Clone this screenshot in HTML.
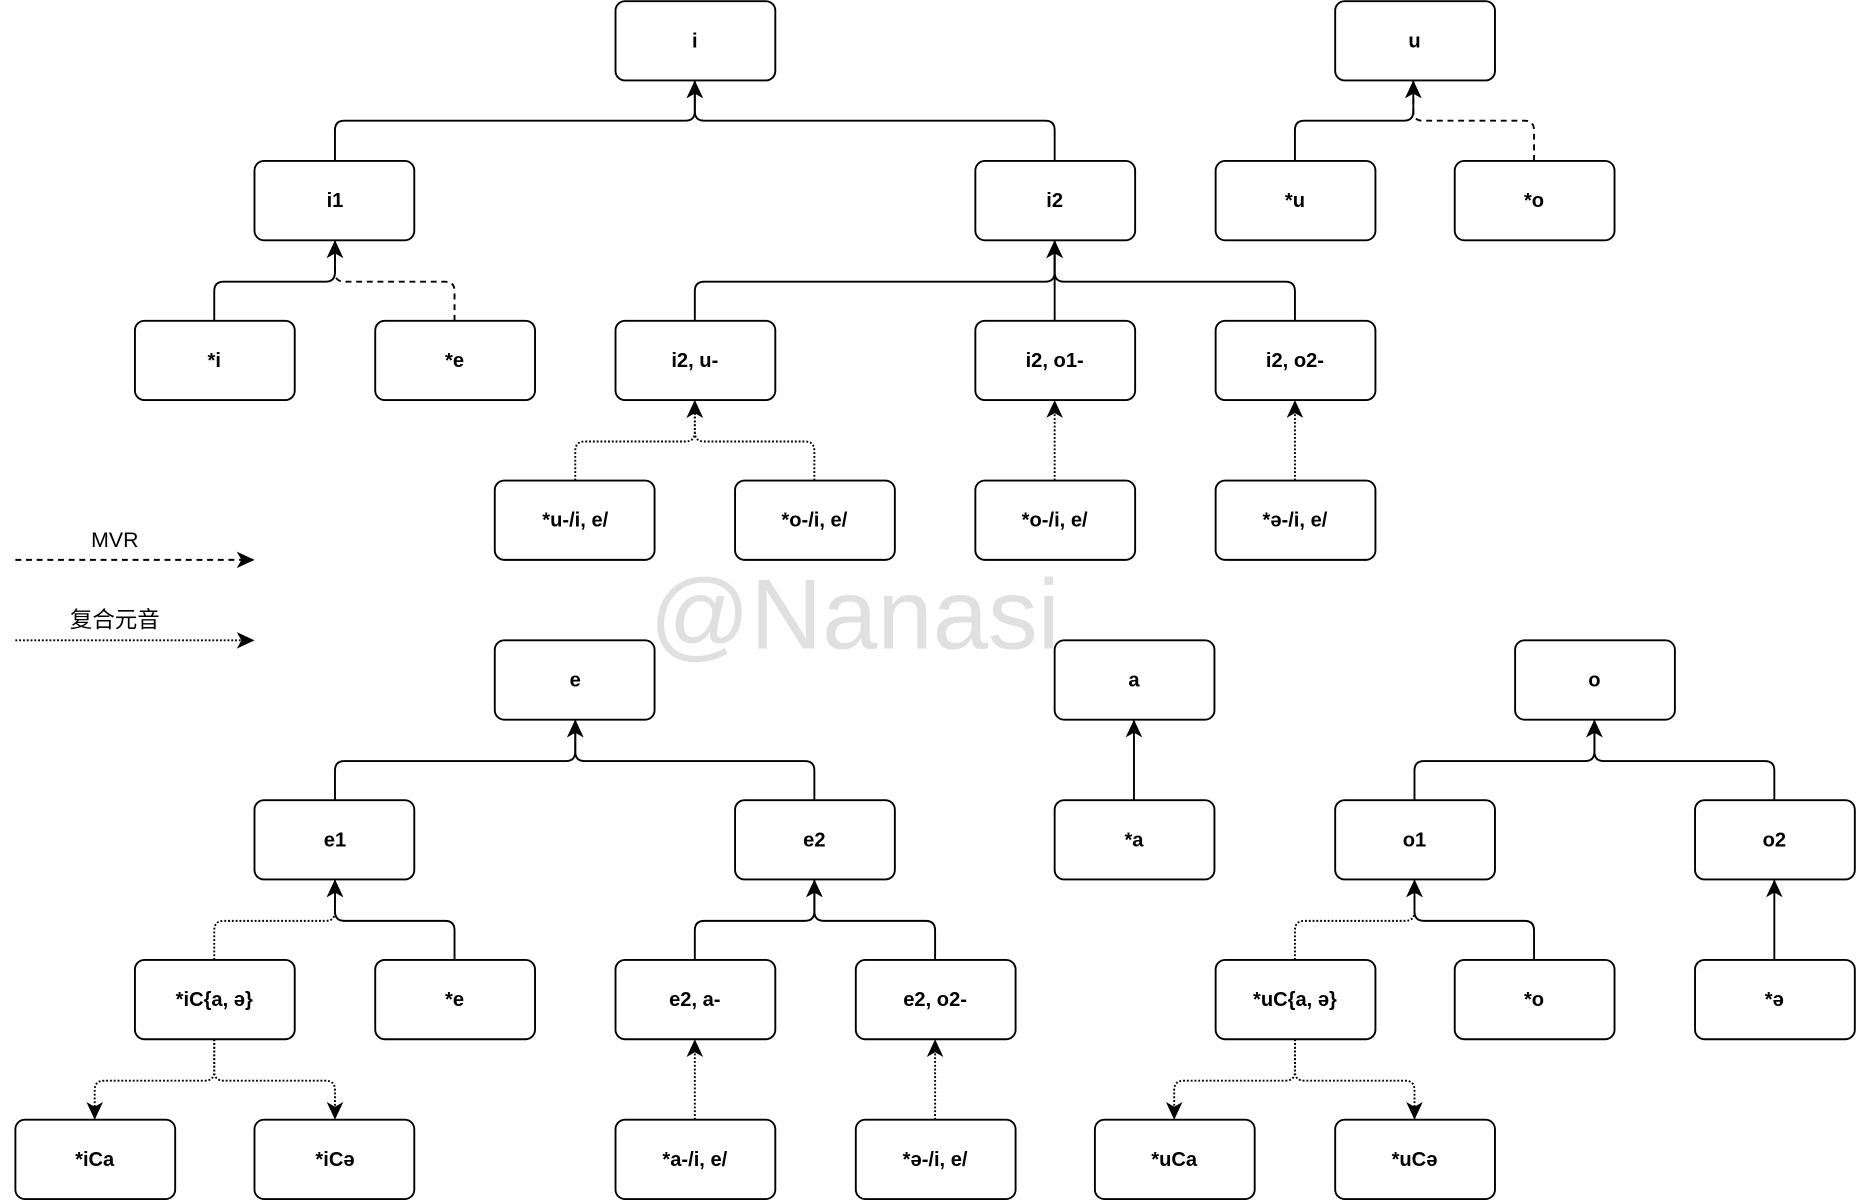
<!DOCTYPE html>
<html><head><meta charset="utf-8"><style>
html,body{margin:0;padding:0;background:#fff;}
svg{display:block;}
.b{fill:#fff;stroke:#000;stroke-width:1.6;}
.t{font-family:"Liberation Sans",Arial,sans-serif;font-weight:bold;font-size:17px;text-anchor:middle;fill:#000;}
.e{fill:none;stroke:#000;stroke-width:1.6;marker-end:url(#ar);}
.da{stroke-dasharray:5 4;}
.do{stroke-dasharray:1.6 1.6;}
</style></head><body>
<svg width="1856" height="1202" viewBox="0 0 1568 1015.5" preserveAspectRatio="none" xmlns="http://www.w3.org/2000/svg">
<defs><marker id="ar" markerUnits="userSpaceOnUse" markerWidth="16" markerHeight="16" refX="14" refY="7" orient="auto"><path d="M0,0 L15,7 L0,14 L4,7 z" fill="#000"/></marker></defs>
<text x="722" y="548" font-family="Liberation Sans,Arial,sans-serif" font-size="84" fill="#e0e0e0" text-anchor="middle">@Nanasi</text>
<g>
<path class="e" d="M283,136 L283,110 Q283,102 291,102 L579,102 Q587,102 587,94 L587,69"/>
<path class="e" d="M891,136 L891,110 Q891,102 883,102 L595,102 Q587,102 587,94 L587,69"/>
<path class="e" d="M1094,136 L1094,110 Q1094,102 1102,102 L1186,102 Q1194,102 1194,94 L1194,69"/>
<path class="e da" d="M1296,136 L1296,110 Q1296,102 1288,102 L1202,102 Q1194,102 1194,94 L1194,69"/>
<path class="e" d="M181,271 L181,246 Q181,238 189,238 L275,238 Q283,238 283,230 L283,204"/>
<path class="e da" d="M384,271 L384,246 Q384,238 376,238 L291,238 Q283,238 283,230 L283,204"/>
<path class="e" d="M587,271 L587,246 Q587,238 595,238 L883,238 Q891,238 891,230 L891,204"/>
<path class="e" d="M891,271 L891,204"/>
<path class="e" d="M1094,271 L1094,246 Q1094,238 1086,238 L899,238 Q891,238 891,230 L891,204"/>
<path class="e do" d="M486,406 L486,381 Q486,373 494,373 L579,373 Q587,373 587,365 L587,339"/>
<path class="e do" d="M688,406 L688,381 Q688,373 680,373 L595,373 Q587,373 587,365 L587,339"/>
<path class="e do" d="M891,406 L891,339"/>
<path class="e do" d="M1094,406 L1094,339"/>
<path class="e" d="M283,676 L283,651 Q283,643 291,643 L478,643 Q486,643 486,635 L486,609"/>
<path class="e" d="M688,676 L688,651 Q688,643 680,643 L494,643 Q486,643 486,635 L486,609"/>
<path class="e" d="M958,676 L958,609"/>
<path class="e" d="M1195,676 L1195,651 Q1195,643 1203,643 L1339,643 Q1347,643 1347,635 L1347,609"/>
<path class="e" d="M1499,676 L1499,651 Q1499,643 1491,643 L1355,643 Q1347,643 1347,635 L1347,609"/>
<path class="e do" d="M181,811 L181,786 Q181,778 189,778 L275,778 Q283,778 283,770 L283,744"/>
<path class="e" d="M384,811 L384,786 Q384,778 376,778 L291,778 Q283,778 283,770 L283,744"/>
<path class="e" d="M587,811 L587,786 Q587,778 595,778 L680,778 Q688,778 688,770 L688,744"/>
<path class="e" d="M790,811 L790,786 Q790,778 782,778 L696,778 Q688,778 688,770 L688,744"/>
<path class="e do" d="M1094,811 L1094,786 Q1094,778 1102,778 L1187,778 Q1195,778 1195,770 L1195,744"/>
<path class="e" d="M1296,811 L1296,786 Q1296,778 1288,778 L1203,778 Q1195,778 1195,770 L1195,744"/>
<path class="e" d="M1499,811 L1499,744"/>
<path class="e do" d="M587,946 L587,879"/>
<path class="e do" d="M790,946 L790,879"/>
<path class="e do" d="M181,878 L181,905 Q181,913 173,913 L88,913 Q80,913 80,921 L80,945"/>
<path class="e do" d="M181,878 L181,905 Q181,913 189,913 L275,913 Q283,913 283,921 L283,945"/>
<path class="e do" d="M1094,878 L1094,905 Q1094,913 1086,913 L1000,913 Q992,913 992,921 L992,945"/>
<path class="e do" d="M1094,878 L1094,905 Q1094,913 1102,913 L1187,913 Q1195,913 1195,921 L1195,945"/>
<path class="e da" d="M13,473 L214,473"/>
<path class="e do" d="M13,541 L214,541"/>
</g>
<text x="97" y="462" font-family="Liberation Sans,Arial,sans-serif" font-size="18" text-anchor="middle">MVR</text>
<text x="97" y="530" font-family="Liberation Sans,'Noto Sans CJK SC',sans-serif" font-size="19" text-anchor="middle">复合元音</text>
<g>
<rect class="b" x="520" y="1" width="135" height="67" rx="8"/><text class="t" x="587" y="40">i</text>
<rect class="b" x="1128" y="1" width="135" height="67" rx="8"/><text class="t" x="1195" y="40">u</text>
<rect class="b" x="215" y="136" width="135" height="67" rx="8"/><text class="t" x="283" y="175">i1</text>
<rect class="b" x="824" y="136" width="135" height="67" rx="8"/><text class="t" x="891" y="175">i2</text>
<rect class="b" x="1027" y="136" width="135" height="67" rx="8"/><text class="t" x="1094" y="175">*u</text>
<rect class="b" x="1229" y="136" width="135" height="67" rx="8"/><text class="t" x="1296" y="175">*o</text>
<rect class="b" x="114" y="271" width="135" height="67" rx="8"/><text class="t" x="181" y="310">*i</text>
<rect class="b" x="317" y="271" width="135" height="67" rx="8"/><text class="t" x="384" y="310">*e</text>
<rect class="b" x="520" y="271" width="135" height="67" rx="8"/><text class="t" x="587" y="310">i2, u-</text>
<rect class="b" x="824" y="271" width="135" height="67" rx="8"/><text class="t" x="891" y="310">i2, o1-</text>
<rect class="b" x="1027" y="271" width="135" height="67" rx="8"/><text class="t" x="1094" y="310">i2, o2-</text>
<rect class="b" x="418" y="406" width="135" height="67" rx="8"/><text class="t" x="486" y="445">*u-/i, e/</text>
<rect class="b" x="621" y="406" width="135" height="67" rx="8"/><text class="t" x="688" y="445">*o-/i, e/</text>
<rect class="b" x="824" y="406" width="135" height="67" rx="8"/><text class="t" x="891" y="445">*o-/i, e/</text>
<rect class="b" x="1027" y="406" width="135" height="67" rx="8"/><text class="t" x="1094" y="445">*ə-/i, e/</text>
<rect class="b" x="418" y="541" width="135" height="67" rx="8"/><text class="t" x="486" y="580">e</text>
<rect class="b" x="891" y="541" width="135" height="67" rx="8"/><text class="t" x="958" y="580">a</text>
<rect class="b" x="1280" y="541" width="135" height="67" rx="8"/><text class="t" x="1347" y="580">o</text>
<rect class="b" x="215" y="676" width="135" height="67" rx="8"/><text class="t" x="283" y="715">e1</text>
<rect class="b" x="621" y="676" width="135" height="67" rx="8"/><text class="t" x="688" y="715">e2</text>
<rect class="b" x="891" y="676" width="135" height="67" rx="8"/><text class="t" x="958" y="715">*a</text>
<rect class="b" x="1128" y="676" width="135" height="67" rx="8"/><text class="t" x="1195" y="715">o1</text>
<rect class="b" x="1432" y="676" width="135" height="67" rx="8"/><text class="t" x="1499" y="715">o2</text>
<rect class="b" x="114" y="811" width="135" height="67" rx="8"/><text class="t" x="181" y="850">*iC{a, ə}</text>
<rect class="b" x="317" y="811" width="135" height="67" rx="8"/><text class="t" x="384" y="850">*e</text>
<rect class="b" x="520" y="811" width="135" height="67" rx="8"/><text class="t" x="587" y="850">e2, a-</text>
<rect class="b" x="723" y="811" width="135" height="67" rx="8"/><text class="t" x="790" y="850">e2, o2-</text>
<rect class="b" x="1027" y="811" width="135" height="67" rx="8"/><text class="t" x="1094" y="850">*uC{a, ə}</text>
<rect class="b" x="1229" y="811" width="135" height="67" rx="8"/><text class="t" x="1296" y="850">*o</text>
<rect class="b" x="1432" y="811" width="135" height="67" rx="8"/><text class="t" x="1499" y="850">*ə</text>
<rect class="b" x="13" y="946" width="135" height="67" rx="8"/><text class="t" x="80" y="985">*iCa</text>
<rect class="b" x="215" y="946" width="135" height="67" rx="8"/><text class="t" x="283" y="985">*iCə</text>
<rect class="b" x="520" y="946" width="135" height="67" rx="8"/><text class="t" x="587" y="985">*a-/i, e/</text>
<rect class="b" x="723" y="946" width="135" height="67" rx="8"/><text class="t" x="790" y="985">*ə-/i, e/</text>
<rect class="b" x="925" y="946" width="135" height="67" rx="8"/><text class="t" x="992" y="985">*uCa</text>
<rect class="b" x="1128" y="946" width="135" height="67" rx="8"/><text class="t" x="1195" y="985">*uCə</text>
</g>
</svg>
</body></html>
